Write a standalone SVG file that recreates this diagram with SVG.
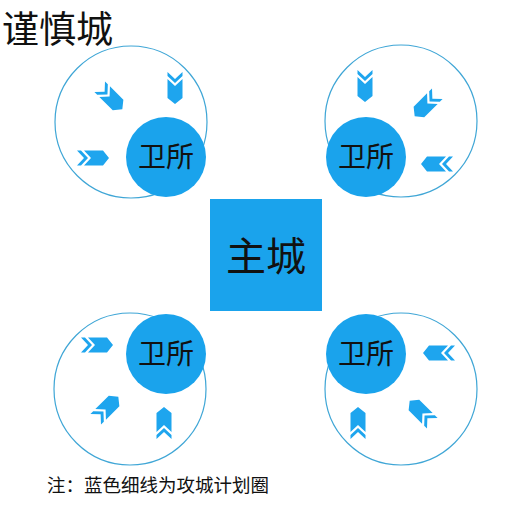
<svg xmlns="http://www.w3.org/2000/svg" xmlns:xlink="http://www.w3.org/1999/xlink" width="510" height="510" viewBox="0 0 510 510">
<style>
.ring{fill:none;stroke:#3fa6d6;stroke-width:1.2}
.fort{fill:#1aa3ec}
.lbl{font-family:"Noto Sans CJK SC","Noto Sans",sans-serif;fill:#111;text-anchor:middle}
.arr{fill:#1ea5ee}
</style>
<defs>
<g id="arrow">
<polygon points="-16,-7.5 -12,-7.5 -5,0 -12,7.5 -16,7.5 -9,0"/>
<polygon points="-9,-7.5 10,-7.5 16,0 10,7.5 -9,7.5 -2,0"/>
</g>
</defs>
<rect width="510" height="510" fill="#fff"/>
<text x="2" y="43" class="lbl" style="text-anchor:start;font-size:37px">谨慎城</text>

<g id="connectors" class="arr">
<use xlink:href="#arrow" transform="translate(93,158)"/>
<use xlink:href="#arrow" transform="translate(111,98) rotate(45)"/>
<use xlink:href="#arrow" transform="translate(175,88) rotate(90)"/>
<use xlink:href="#arrow" transform="translate(365,86) rotate(90)"/>
<use xlink:href="#arrow" transform="translate(426,105) rotate(135)"/>
<use xlink:href="#arrow" transform="translate(437,164) rotate(180)"/>
<use xlink:href="#arrow" transform="translate(97,345)"/>
<use xlink:href="#arrow" transform="translate(107,408) rotate(-45)"/>
<use xlink:href="#arrow" transform="translate(164,423) rotate(-90)"/>
<use xlink:href="#arrow" transform="translate(439,353) rotate(180)"/>
<use xlink:href="#arrow" transform="translate(421,412) rotate(-135)"/>
<use xlink:href="#arrow" transform="translate(358,423) rotate(-90)"/>
</g>

<g id="main-city">
<rect x="210" y="199" width="112" height="112" class="fort"/>
<text x="266" y="271" class="lbl" style="font-size:40px">主城</text>
</g>

<g id="fort-tl">
<circle cx="131" cy="122" r="76" class="ring"/>
<circle cx="166" cy="157" r="40" class="fort"/>
<text x="166" y="167" class="lbl" style="font-size:28px">卫所</text>
</g>
<g id="fort-tr">
<circle cx="401" cy="121" r="76" class="ring"/>
<circle cx="366" cy="157" r="40" class="fort"/>
<text x="366" y="167" class="lbl" style="font-size:28px">卫所</text>
</g>
<g id="fort-bl">
<circle cx="130" cy="389" r="76" class="ring"/>
<circle cx="166" cy="354" r="40" class="fort"/>
<text x="166" y="364" class="lbl" style="font-size:28px">卫所</text>
</g>
<g id="fort-br">
<circle cx="401" cy="389" r="76" class="ring"/>
<circle cx="366" cy="354" r="40" class="fort"/>
<text x="366" y="364" class="lbl" style="font-size:28px">卫所</text>
</g>

<text x="47" y="492" class="lbl" style="text-anchor:start;font-size:18.5px">注：蓝色细线为攻城计划圈</text>
</svg>
